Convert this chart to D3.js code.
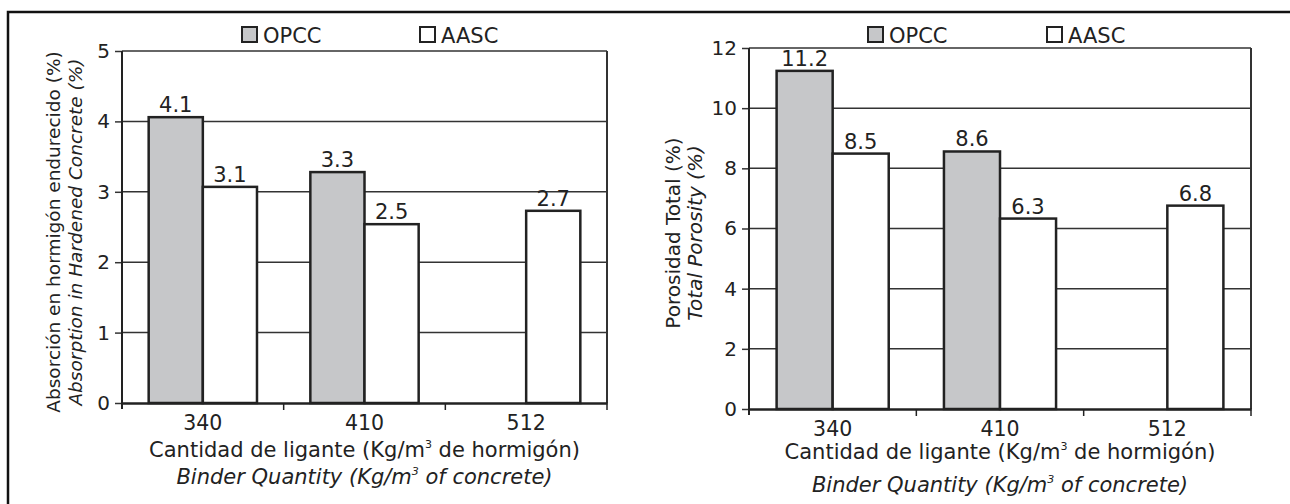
<!DOCTYPE html>
<html>
<head>
<meta charset="utf-8">
<script src="https://cdn.jsdelivr.net/npm/d3@7"></script>
<style>
  body { margin: 0; background: #fff; }
  svg text { font-family: "DejaVu Sans", Verdana, sans-serif; fill: #222; }
</style>
</head>
<body>
<svg id="chart" width="1290" height="504"></svg>
<script>
// values
var categories = ["340", "410", "512"];
var seriesNames = ["OPCC", "AASC"];
var absorptionOPCC = [4.06, 3.28, null];
var absorptionAASC = [3.07, 2.54, 2.73];
var porosityOPCC = [11.24, 8.56, null];
var porosityAASC = [8.49, 6.33, 6.76];
var absorptionTicks = [0, 1, 2, 3, 4, 5];
var porosityTicks = [0, 2, 4, 6, 8, 10, 12];

var svg = d3.select("#chart");
var fills = { OPCC: "#c6c7c9", AASC: "#ffffff" };

// outer frame (only top and left visible in the picture)
svg.append("path")
   .attr("d", "M8,504 L8,12 L1290,12")
   .attr("fill", "none")
   .attr("stroke", "#111")
   .attr("stroke-width", 2.5);

function drawPanel(cfg) {
    var x = d3.scaleBand().domain(categories).range([cfg.left, cfg.right]);
    var sub = d3.scaleBand().domain(seriesNames)
                .range([x.bandwidth() * 0.165, x.bandwidth() * 0.835]);
    var y = d3.scaleLinear().domain([0, d3.max(cfg.ticks)]).range([cfg.bottom, cfg.top]);

    var g = svg.append("g");

    // gridlines + y axis
    var yAxis = g.append("g")
        .attr("transform", "translate(" + cfg.left + ",0)")
        .call(d3.axisLeft(y).tickValues(cfg.ticks).tickFormat(d3.format("d"))
                .tickSize(7).tickPadding(5));
    yAxis.select(".domain").remove();
    yAxis.selectAll("line").attr("stroke", "#333").attr("stroke-width", 1.5);
    yAxis.selectAll("text").attr("font-size", "20px").attr("fill", "#222");

    g.selectAll(".grid")
     .data(cfg.ticks.filter(function(d) { return d > 0; }))
     .enter().append("line")
     .attr("x1", cfg.left).attr("x2", cfg.right)
     .attr("y1", function(d) { return y(d); })
     .attr("y2", function(d) { return y(d); })
     .attr("stroke", "#333").attr("stroke-width", 1.5);

    // plot box sides
    g.append("line")
     .attr("x1", cfg.left).attr("x2", cfg.left)
     .attr("y1", cfg.top).attr("y2", cfg.bottom + 6)
     .attr("stroke", "#222").attr("stroke-width", 2);
    g.append("line")
     .attr("x1", cfg.right).attr("x2", cfg.right)
     .attr("y1", cfg.top).attr("y2", cfg.bottom)
     .attr("stroke", "#333").attr("stroke-width", 2);

    // bars
    var rows = [];
    categories.forEach(function(c, i) {
        rows.push({ cat: c, key: "OPCC", value: cfg.opcc[i] });
        rows.push({ cat: c, key: "AASC", value: cfg.aasc[i] });
    });
    rows = rows.filter(function(d) { return d.value != null; });

    g.selectAll(".bar")
     .data(rows)
     .enter().append("rect")
     .attr("x", function(d) { return x(d.cat) + sub(d.key); })
     .attr("width", sub.bandwidth())
     .attr("y", function(d) { return y(d.value); })
     .attr("height", function(d) { return y(0) - y(d.value); })
     .attr("fill", function(d) { return fills[d.key]; })
     .attr("stroke", "#222")
     .attr("stroke-width", 2.5);

    g.selectAll(".lbl")
     .data(rows)
     .enter().append("text")
     .attr("x", function(d) { return x(d.cat) + sub(d.key) + sub.bandwidth() / 2; })
     .attr("y", function(d) { return y(d.value) - 5; })
     .attr("text-anchor", "middle")
     .attr("font-size", "21px")
     .text(function(d) { return d3.format(".1f")(d.value); });

    // x axis
    var xAxis = g.append("g")
        .attr("transform", "translate(0," + cfg.bottom + ")")
        .call(d3.axisBottom(x).tickSize(0).tickPadding(12));
    xAxis.select(".domain").attr("stroke", "#222").attr("stroke-width", 2.5);
    xAxis.selectAll("text").attr("font-size", "20.5px").attr("fill", "#222");
    g.selectAll(".xtick")
     .data(categories)
     .enter().append("line")
     .attr("x1", function(d) { return x(d) + x.bandwidth(); })
     .attr("x2", function(d) { return x(d) + x.bandwidth(); })
     .attr("y1", cfg.bottom).attr("y2", cfg.bottom + 7)
     .attr("stroke", "#222").attr("stroke-width", 1.5);

    // x titles
    var cx = (cfg.left + cfg.right) / 2;
    var t1 = g.append("text").attr("x", cx).attr("y", cfg.xTitleY[0])
              .attr("text-anchor", "middle").attr("font-size", "21px");
    t1.append("tspan").text("Cantidad de ligante (Kg/m");
    t1.append("tspan").attr("dy", -9).attr("font-size", "11px").text("3");
    t1.append("tspan").attr("dy", 9).text(" de hormigón)");
    var t2 = g.append("text").attr("x", cx).attr("y", cfg.xTitleY[1])
              .attr("text-anchor", "middle").attr("font-size", "21px")
              .attr("font-style", "italic");
    t2.append("tspan").text("Binder Quantity (Kg/m");
    t2.append("tspan").attr("dy", -9).attr("font-size", "11px").text("3");
    t2.append("tspan").attr("dy", 9).text(" of concrete)");

    // y titles
    var cy = cfg.yTitleCenter;
    g.append("text")
     .attr("transform", "translate(" + cfg.yTitleX[0] + "," + cy + ") rotate(-90)")
     .attr("text-anchor", "middle").attr("font-size", cfg.yTitleSize)
     .text(cfg.yTitle[0]);
    g.append("text")
     .attr("transform", "translate(" + cfg.yTitleX[1] + "," + cy + ") rotate(-90)")
     .attr("text-anchor", "middle").attr("font-size", cfg.yTitleSize)
     .attr("font-style", "italic")
     .text(cfg.yTitle[1]);

    // legend
    var leg = g.selectAll(".leg")
     .data(seriesNames)
     .enter().append("g")
     .attr("transform", function(d, i) { return "translate(" + cfg.legendX[i] + ",27)"; });
    leg.append("rect")
       .attr("width", 15).attr("height", 15)
       .attr("fill", function(d) { return fills[d]; })
       .attr("stroke", "#222").attr("stroke-width", 2);
    leg.append("text")
       .attr("x", 21).attr("y", 15.5)
       .attr("font-size", "21px")
       .text(function(d) { return d; });
}

drawPanel({
    left: 122, right: 607, top: 51, bottom: 403,
    ticks: absorptionTicks, opcc: absorptionOPCC, aasc: absorptionAASC,
    xTitleY: [457, 484],
    yTitle: ["Absorción en hormigón endurecido (%)", "Absorption in Hardened Concrete (%)"],
    yTitleX: [60, 82], yTitleCenter: 232, yTitleSize: "18.5px",
    legendX: [242, 420]
});

drawPanel({
    left: 749, right: 1251, top: 48, bottom: 409,
    ticks: porosityTicks, opcc: porosityOPCC, aasc: porosityAASC,
    xTitleY: [459, 492],
    yTitle: ["Porosidad Total (%)", "Total Porosity (%)"],
    yTitleX: [680, 702], yTitleCenter: 233, yTitleSize: "20px",
    legendX: [868, 1047]
});
</script>
</body>
</html>
